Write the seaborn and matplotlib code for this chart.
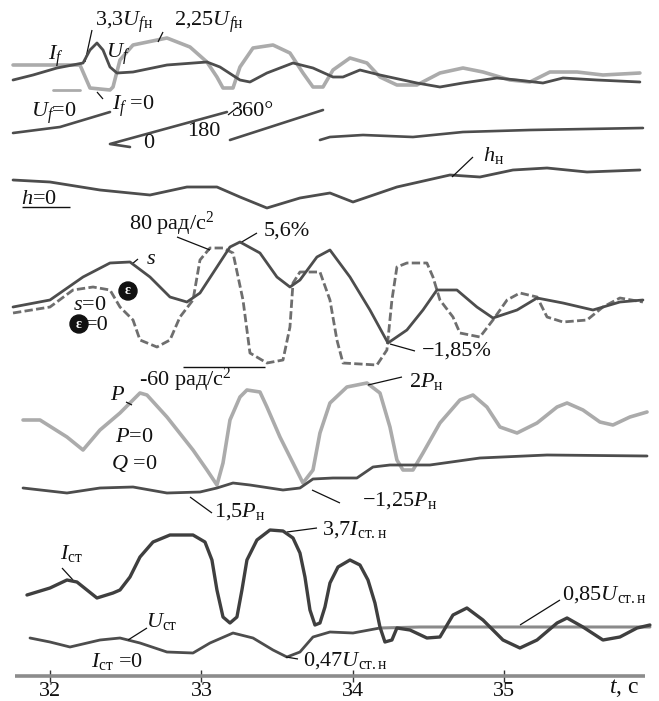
import matplotlib
matplotlib.use('Agg')
import matplotlib.pyplot as plt
import matplotlib.transforms as mtransforms
import seaborn as sns

# ---------------- data (t in seconds, vertical trace positions in chart units, top-down) -------------
# field traces (gray and dark)
f_gray_t = [31.756, 32.198, 32.264, 32.396, 32.416, 32.462, 32.548, 32.772, 32.924, 33.036, 33.102, 33.142,
            33.208, 33.254, 33.340, 33.472, 33.584, 33.670, 33.736, 33.802, 33.868, 33.980, 34.092, 34.178,
            34.290, 34.422, 34.574, 34.726, 34.858, 35.036, 35.168, 35.300, 35.479, 35.650, 35.894]
f_gray_y = [65, 65, 88, 90, 87, 60, 45, 38, 47, 62, 77, 88, 88, 67, 48, 45, 53, 73, 87, 87, 70, 58, 63, 77,
            85, 85, 73, 68, 72, 80, 82, 72, 72, 75, 73]
f_dark_t = [31.756, 31.888, 32.046, 32.218, 32.264, 32.310, 32.350, 32.396, 32.442, 32.548, 32.772, 33.036,
            33.122, 33.254, 33.320, 33.432, 33.604, 33.736, 33.868, 33.934, 34.046, 34.178, 34.422, 34.574,
            34.726, 34.950, 35.083, 35.254, 35.386, 35.611, 35.894]
f_dark_y = [80, 75, 68, 63, 50, 43, 50, 67, 73, 72, 65, 62, 67, 80, 82, 73, 63, 68, 77, 77, 70, 75, 83, 87,
            83, 78, 80, 83, 78, 80, 82]
uf0_t = [32.020, 32.198]
uf0_y = [90, 90]

# rotor angle (sawtooth segments)
ang1_t = [31.756, 32.066, 32.396]
ang1_y = [133, 127, 112]
ang2_t = [32.528, 32.396, 33.168]
ang2_y = [147, 144, 112]
ang3_t = [33.188, 33.802]
ang3_y = [140, 110]
ang4_t = [33.782, 33.848, 34.066, 34.396, 34.726, 35.168, 35.914]
ang4_y = [140, 137, 135, 137, 132, 130, 128]

# h
h_t = [31.756, 32.000, 32.330, 32.660, 32.904, 33.102, 33.254, 33.432, 33.650, 33.848, 34.000, 34.290,
       34.640, 34.838, 35.056, 35.281, 35.545, 35.894]
h_y = [180, 182, 190, 195, 187, 187, 197, 208, 198, 193, 202, 187, 175, 177, 170, 168, 172, 170]

# slip s
s_t = [31.756, 32.000, 32.218, 32.396, 32.528, 32.660, 32.792, 32.904, 32.990, 33.102, 33.188, 33.254,
       33.386, 33.498, 33.584, 33.650, 33.762, 33.848, 33.980, 34.112, 34.231, 34.356, 34.462, 34.554,
       34.686, 34.818, 34.924, 35.083, 35.215, 35.386, 35.584, 35.762, 35.914]
s_y = [307, 300, 277, 263, 262, 277, 297, 302, 293, 267, 247, 242, 253, 277, 287, 280, 257, 250, 277, 310,
       343, 330, 310, 290, 290, 307, 318, 310, 298, 303, 310, 302, 300]

# angular acceleration eps
e_t = [31.756, 32.000, 32.152, 32.284, 32.396, 32.462, 32.548, 32.594, 32.706, 32.792, 32.858, 32.944,
       32.990, 33.056, 33.142, 33.208, 33.274, 33.320, 33.432, 33.538, 33.584, 33.604, 33.650, 33.782,
       33.848, 33.894, 33.934, 34.158, 34.224, 34.257, 34.290, 34.356, 34.488, 34.528, 34.574, 34.660,
       34.706, 34.838, 34.924, 35.017, 35.102, 35.215, 35.281, 35.386, 35.545, 35.650, 35.762, 35.914]
e_y = [313, 307, 290, 287, 290, 307, 320, 340, 347, 340, 317, 300, 260, 248, 248, 253, 300, 353, 363, 360,
       327, 283, 272, 272, 300, 340, 363, 365, 350, 300, 267, 263, 263, 277, 300, 317, 333, 337, 320, 300,
       293, 297, 317, 322, 320, 307, 298, 302]

# active power P
p_t = [31.822, 31.934, 32.112, 32.218, 32.330, 32.462, 32.594, 32.640, 32.772, 32.944, 33.036, 33.102,
       33.142, 33.188, 33.254, 33.300, 33.386, 33.432, 33.518, 33.604, 33.670, 33.736, 33.782, 33.848,
       33.960, 34.092, 34.178, 34.244, 34.290, 34.330, 34.396, 34.462, 34.574, 34.706, 34.792, 34.884,
       34.970, 35.083, 35.215, 35.347, 35.413, 35.518, 35.630, 35.716, 35.828, 35.941]
p_y = [420, 420, 437, 450, 430, 413, 393, 395, 417, 450, 470, 485, 463, 420, 397, 390, 392, 407, 437, 463,
       483, 470, 433, 403, 387, 383, 393, 427, 460, 470, 470, 453, 423, 400, 395, 407, 427, 433, 423, 407,
       403, 410, 422, 425, 417, 412]

# reactive power Q
q_t = [31.822, 32.112, 32.330, 32.548, 32.772, 32.990, 33.102, 33.208, 33.320, 33.538, 33.650, 33.736,
       33.868, 34.026, 34.132, 34.244, 34.508, 34.838, 35.281, 35.941]
q_y = [488, 493, 488, 487, 493, 492, 488, 483, 485, 490, 488, 479, 478, 478, 467, 465, 465, 458, 455, 456]

# stator current
i_t = [31.848, 32.000, 32.112, 32.178, 32.310, 32.416, 32.462, 32.528, 32.594, 32.680, 32.792, 32.944,
       33.023, 33.069, 33.102, 33.142, 33.188, 33.234, 33.267, 33.300, 33.366, 33.452, 33.538, 33.604,
       33.650, 33.683, 33.716, 33.749, 33.782, 33.815, 33.848, 33.901, 33.980, 34.046, 34.099, 34.145,
       34.178, 34.211, 34.257, 34.290, 34.376, 34.488, 34.574, 34.660, 34.752, 34.858, 34.990, 35.102,
       35.215, 35.347, 35.413, 35.518, 35.650, 35.762, 35.875, 35.960]
i_y = [595, 588, 580, 582, 598, 593, 590, 577, 557, 542, 535, 535, 542, 560, 590, 617, 623, 617, 590, 560,
       540, 530, 531, 538, 553, 577, 610, 625, 623, 607, 583, 567, 560, 565, 580, 603, 627, 642, 640, 628,
       630, 638, 637, 615, 608, 620, 640, 648, 640, 623, 618, 627, 640, 637, 628, 625]

# stator voltage
u_t = [31.868, 32.000, 32.132, 32.330, 32.462, 32.594, 32.772, 32.944, 33.056, 33.208, 33.340, 33.472,
       33.564, 33.650, 33.736, 33.848, 34.000, 34.178]
u_y = [638, 642, 647, 640, 638, 643, 652, 653, 643, 633, 638, 650, 657, 652, 637, 632, 633, 628]
u85_t = [34.178, 34.442, 34.970, 35.960]
u85_y = [628, 627, 627, 627]

xticks = [32, 33, 34, 35]
xticklabels = ['32', '33', '34', '35']

# ---------------- style ----------------
sns.set_theme(style='white')
plt.rcParams['font.family'] = ['Liberation Serif', 'DejaVu Serif']
plt.rcParams['mathtext.fontset'] = 'custom'
plt.rcParams['mathtext.rm'] = 'Liberation Serif'
plt.rcParams['mathtext.it'] = 'Liberation Serif:italic'
plt.rcParams['mathtext.bf'] = 'Liberation Serif:bold'

W, H = 659, 701
fig = plt.figure(figsize=(W / 100, H / 100), dpi=100)
ax = fig.add_axes([0, 25 / H, 1, 676 / H])
ax.set_xlim(31.670, 36.020)
ax.set_ylim(676, 0)

DARK = '#4d4d4d'
GRAY = '#ababab'


def trace(t, y, color, lw, ls='-', z=2):
    sns.lineplot(x=t, y=y, ax=ax, sort=False, estimator=None, color=color, lw=lw,
                 linestyle=ls, legend=False, zorder=z, solid_joinstyle='round',
                 solid_capstyle='round')


trace(f_gray_t, f_gray_y, GRAY, 2.6)
trace(f_dark_t, f_dark_y, DARK, 2.0, z=3)
trace(uf0_t, uf0_y, GRAY, 2.0)
for tt, yy in [(ang1_t, ang1_y), (ang2_t, ang2_y), (ang3_t, ang3_y), (ang4_t, ang4_y)]:
    trace(tt, yy, DARK, 1.9)
trace(h_t, h_y, DARK, 2.0)
trace(e_t, e_y, '#6e6e6e', 2.0, ls=(0, (3.0, 1.2)))
trace(s_t, s_y, DARK, 2.0, z=3)
trace(p_t, p_y, GRAY, 2.6)
trace(q_t, q_y, DARK, 2.0, z=3)
trace(i_t, i_y, '#3f3f3f', 2.4, z=3)
trace(u_t, u_y, DARK, 2.0)
trace(u85_t, u85_y, '#8a8a8a', 2.2)

# axis
for side in ['left', 'right', 'top', 'bottom']:
    ax.spines[side].set_visible(False)
ax.hlines(676, 31.769, 35.927, color='#8c8c8c', lw=2.6, clip_on=False, zorder=1)
ax.set_xticks(xticks)
ax.set_xticklabels(xticklabels)
ax.set_yticks([])
ax.tick_params(axis='x', direction='inout', length=8, width=1.0, color='#333333',
               labelsize=16, pad=0, bottom=True, labelcolor='#111111')
ax.grid(False)
ax.set_xlabel('')
ax.set_ylabel('')

# ---------------- annotations (pixel layout) ----------------
pix = mtransforms.Affine2D().scale(1, -1).translate(0, H)
TC = '#111111'


def lab(x, y, s, size=16, ha='center', **kw):
    ax.text(x, y, s, transform=pix, ha=ha, va='center', fontsize=size, color=TC,
            clip_on=False, **kw)


def seg(x1, y1, x2, y2, lw=0.9):
    ax.plot([x1, x2], [y1, y2], transform=pix, color='#111111', lw=lw, clip_on=False,
            solid_capstyle='butt')


lab(56, 56, r'$I_f$')
lab(118, 54, r'$U_f$')
lab(124, 22, r'3,3$U_{f\mathrm{н}}$')
seg(92, 30, 85, 62)
lab(209, 22, r'2,25$U_{f\mathrm{н}}$')
seg(163, 32, 158, 42)
lab(54, 113, r'$U_f$=0')
lab(133, 106, r'$I_f$ =0')
seg(97, 92, 103, 99)
lab(149, 143, '0')
lab(204, 131, '180')
lab(253, 111, '360°')
seg(228, 115, 238, 107)

lab(39, 199, r'$h$=0')
seg(22, 207, 70, 207, lw=1.0)
lab(494, 156, r'$h_{\mathrm{н}}$')
seg(473, 157, 452, 177)

lab(172, 224, r'80 рад/с$^2$')
seg(177, 237, 210, 250)
lab(287, 231, '5,6%')
seg(257, 233, 240, 243)
lab(151, 259, r'$s$')
seg(138, 259, 132, 264)
for (ex, ey) in [(128, 291), (79, 324)]:
    ax.text(ex, ey, 'ε', transform=pix, ha='center', va='center', fontsize=10,
            color='white', fontweight='bold',
            bbox=dict(boxstyle='circle,pad=0.18', fc='#111111', ec='#111111'))
lab(90, 305, r'$s$=0')
lab(97, 325, '=0')
lab(185, 380, r'-60 рад/с$^2$')
seg(183, 367, 265, 367, lw=1.0)
lab(457, 351, '−1,85%')
seg(390, 344, 415, 351)

lab(426, 382, r'2$P_{\mathrm{н}}$')
seg(368, 385, 402, 377)
lab(118, 395, r'$P$')
seg(126, 402, 132, 405)
lab(134, 437, r'$P$=0')
lab(134, 464, r'$Q$ =0')
lab(240, 512, r'1,5$P_{\mathrm{н}}$')
seg(190, 497, 212, 513)
lab(400, 501, r'−1,25$P_{\mathrm{н}}$')
seg(312, 490, 340, 503)

lab(355, 530, r'3,7$I_{\mathrm{ст.н}}$')
seg(287, 532, 317, 528)
lab(71, 554, r'$I_{\mathrm{ст}}$')
seg(62, 568, 73, 580)
lab(162, 621, r'$U_{\mathrm{ст}}$')
seg(147, 628, 128, 640)
lab(117, 661, r'$I_{\mathrm{ст}}$ =0')
lab(345, 661, r'0,47$U_{\mathrm{ст.н}}$')
seg(286, 657, 298, 659)
lab(604, 595, r'0,85$U_{\mathrm{ст.н}}$')
seg(520, 625, 560, 600)
lab(624, 688, r'$t$, с', size=17)

fig.savefig('out.png', dpi=100)
